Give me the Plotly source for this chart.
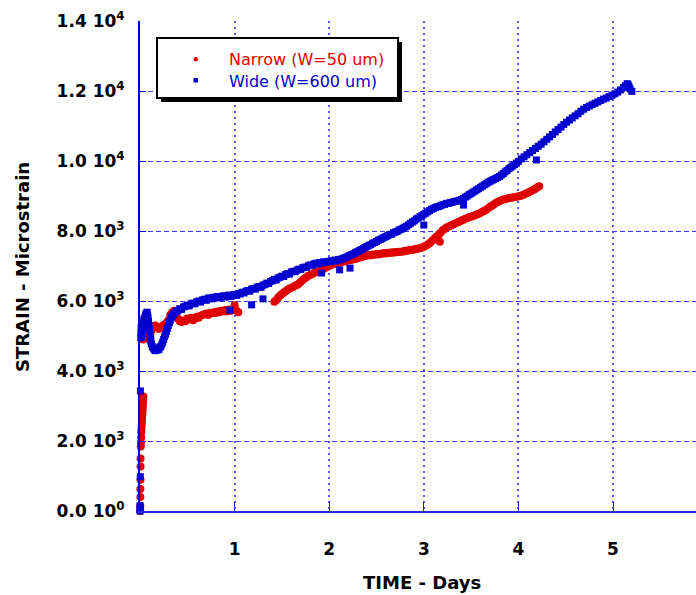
import plotly.graph_objects as go

# ---------------- data ----------------
series_names = ["Narrow (W=50 um)", "Wide (W=600 um)"]

narrow_pts = [
    (0.003, 0), (0.003, 150), (0.004, 400), (0.004, 630), (0.005, 890), (0.006, 1270),
    (0.006, 1500), (0.008, 1840), (0.010, 1950), (0.012, 2100), (0.014, 2250), (0.016, 2330),
    (0.018, 2450), (0.020, 2550), (0.022, 2650), (0.024, 2750), (0.026, 2800), (0.028, 2900),
    (0.030, 3000), (0.032, 3100), (0.034, 3170), (0.036, 3270),
    (0.02, 5000), (0.03, 4900), (0.04, 4950), (0.05, 5050), (0.06, 4950), (0.07, 5100),
    (0.08, 5200), (0.09, 5270), (0.10, 4900), (0.11, 5000), (0.12, 5150), (0.14, 5250),
    (0.16, 5300), (0.18, 5250), (0.20, 5200), (0.22, 5250), (0.24, 5300), (0.26, 5330),
    (0.28, 5380), (0.30, 5450), (0.32, 5600), (0.34, 5680), (0.36, 5720), (0.38, 5650),
    (0.40, 5500), (0.42, 5420), (0.44, 5400), (0.46, 5450), (0.48, 5420), (0.50, 5500),
    (0.52, 5480), (0.54, 5520), (0.56, 5450), (0.58, 5500), (0.60, 5550), (0.62, 5520),
    (0.64, 5580), (0.66, 5600), (0.68, 5620), (0.70, 5640), (0.72, 5600), (0.74, 5660),
    (0.76, 5650), (0.78, 5680), (0.80, 5660), (0.82, 5700), (0.84, 5680), (0.86, 5720),
    (0.88, 5700), (0.90, 5740), (0.92, 5700), (0.94, 5760), (0.96, 5720), (0.98, 5750),
    (1.00, 5800), (1.00, 5880), (1.02, 5720), (1.04, 5680),
    (1.42, 5980), (1.44, 6020), (1.46, 6100), (1.48, 6150), (1.50, 6200), (1.52, 6240),
    (1.54, 6280), (1.56, 6320), (1.58, 6360), (1.60, 6380), (1.62, 6400), (1.64, 6440),
    (1.66, 6460), (1.68, 6500), (1.70, 6550), (1.72, 6600), (1.74, 6640), (1.76, 6680),
    (1.78, 6720), (1.80, 6740), (1.82, 6770), (1.84, 6800), (1.86, 6820), (1.88, 6840),
    (1.90, 6850), (1.92, 6880), (1.94, 6920), (1.96, 6950), (1.98, 6980), (2.00, 7010),
    (2.02, 7030), (2.04, 7050), (2.06, 7060), (2.08, 7080), (2.10, 7090), (2.12, 7100),
    (2.14, 7120), (2.16, 7130), (2.18, 7150), (2.20, 7160), (2.22, 7170), (2.24, 7180),
    (2.26, 7190), (2.28, 7200), (2.30, 7220), (2.32, 7240), (2.34, 7250), (2.36, 7270),
    (2.38, 7290), (2.40, 7300), (2.42, 7310), (2.44, 7310), (2.46, 7330), (2.48, 7320),
    (2.50, 7340), (2.52, 7330), (2.54, 7350), (2.56, 7350), (2.58, 7370), (2.60, 7360),
    (2.62, 7380), (2.64, 7370), (2.66, 7390), (2.68, 7380), (2.70, 7400), (2.72, 7390),
    (2.74, 7410), (2.76, 7400), (2.78, 7420), (2.80, 7420), (2.82, 7440), (2.84, 7440),
    (2.86, 7460), (2.88, 7460), (2.90, 7480), (2.92, 7480), (2.94, 7500), (2.96, 7510),
    (2.98, 7530), (3.00, 7550), (3.02, 7580), (3.04, 7610), (3.06, 7650), (3.08, 7700),
    (3.10, 7750), (3.12, 7800), (3.14, 7850), (3.16, 7900), (3.17, 7690), (3.18, 7960),
    (3.20, 8020), (3.22, 8060), (3.24, 8100), (3.26, 8120), (3.28, 8150), (3.30, 8170),
    (3.32, 8200), (3.34, 8220), (3.36, 8250), (3.38, 8270), (3.40, 8300), (3.42, 8320),
    (3.44, 8350), (3.46, 8370), (3.48, 8400), (3.50, 8410), (3.52, 8430), (3.54, 8450),
    (3.56, 8470), (3.58, 8490), (3.60, 8520), (3.62, 8550), (3.64, 8580), (3.66, 8610),
    (3.68, 8650), (3.70, 8690), (3.72, 8720), (3.74, 8760), (3.76, 8800), (3.78, 8830),
    (3.80, 8860), (3.82, 8880), (3.84, 8900), (3.86, 8910), (3.88, 8930), (3.90, 8940),
    (3.92, 8950), (3.94, 8960), (3.96, 8970), (3.98, 8980), (4.00, 8990), (4.02, 9000),
    (4.04, 9020), (4.06, 9040), (4.08, 9070), (4.10, 9090), (4.12, 9120), (4.14, 9150),
    (4.16, 9180), (4.18, 9210), (4.20, 9250), (4.22, 9280),
]

wide_pts = [
    (0.0, 0), (0.0, 60), (0.0, 150), (0.003, 980), (0.004, 3430),
    (0.008, 4950), (0.010, 5100), (0.012, 5250), (0.015, 4980), (0.02, 5050), (0.025, 5200),
    (0.03, 5350), (0.035, 5300), (0.04, 5450), (0.045, 5500), (0.05, 5420), (0.055, 5550),
    (0.06, 5600), (0.065, 5650), (0.07, 5620), (0.075, 5680), (0.08, 5600), (0.085, 5520),
    (0.09, 5420), (0.095, 5300), (0.10, 5180), (0.105, 5050), (0.11, 4950), (0.115, 4850),
    (0.12, 4780), (0.13, 4700), (0.14, 4650), (0.15, 4620), (0.16, 4580), (0.17, 4620),
    (0.18, 4600), (0.19, 4640), (0.20, 4610), (0.21, 4680), (0.22, 4700), (0.23, 4760),
    (0.24, 4820), (0.25, 4900), (0.26, 4980), (0.27, 5050), (0.28, 5130), (0.29, 5220),
    (0.30, 5300), (0.31, 5380), (0.32, 5450), (0.33, 5520), (0.34, 5560), (0.35, 5600),
    (0.36, 5640), (0.37, 5660), (0.38, 5700), (0.40, 5720), (0.42, 5780), (0.44, 5760),
    (0.46, 5830), (0.48, 5850), (0.50, 5880), (0.52, 5860), (0.54, 5920), (0.56, 5940),
    (0.58, 5920), (0.60, 5980), (0.62, 6000), (0.64, 5970), (0.66, 6030), (0.68, 6050),
    (0.70, 6020), (0.72, 6080), (0.74, 6090), (0.76, 6060), (0.78, 6110), (0.80, 6100),
    (0.82, 6130), (0.84, 6090), (0.86, 6120), (0.88, 6150), (0.90, 6110), (0.92, 6140),
    (0.94, 6170), (0.96, 6130), (0.98, 6160), (1.00, 6190), (1.02, 6160), (1.04, 6210),
    (1.06, 6200), (1.08, 6250), (1.10, 6230), (1.12, 6280), (1.14, 6300), (1.16, 6280),
    (1.18, 6340), (1.20, 6360), (1.22, 6340), (1.24, 6400), (1.26, 6410), (1.28, 6390),
    (1.30, 6450), (1.32, 6470), (1.34, 6510), (1.36, 6500), (1.38, 6560), (1.40, 6580),
    (1.42, 6620), (1.44, 6600), (1.46, 6660), (1.48, 6680), (1.50, 6710), (1.52, 6700),
    (1.54, 6760), (1.56, 6780), (1.58, 6770), (1.60, 6830), (1.62, 6850), (1.64, 6840),
    (1.66, 6880), (1.68, 6910), (1.70, 6900), (1.72, 6950), (1.74, 6970), (1.76, 6960),
    (1.78, 7010), (1.80, 7030), (1.82, 7020), (1.84, 7060), (1.86, 7080), (1.88, 7060),
    (1.90, 7100), (1.92, 7090), (1.94, 7120), (1.96, 7100), (1.98, 7130), (2.00, 7120),
    (2.02, 7150), (2.04, 7140), (2.06, 7170), (2.08, 7150), (2.10, 7190), (2.12, 7180),
    (2.14, 7210), (2.16, 7230), (2.18, 7250), (2.20, 7280), (2.22, 7300), (2.24, 7330),
    (2.26, 7350), (2.28, 7390), (2.30, 7410), (2.32, 7440), (2.34, 7470), (2.36, 7500),
    (2.38, 7530), (2.40, 7560), (2.42, 7590), (2.44, 7610), (2.46, 7650), (2.48, 7670),
    (2.50, 7700), (2.52, 7740), (2.54, 7760), (2.56, 7790), (2.58, 7820), (2.60, 7840),
    (2.62, 7870), (2.64, 7900), (2.66, 7910), (2.68, 7950), (2.70, 7970), (2.72, 7990),
    (2.74, 8030), (2.76, 8050), (2.78, 8080), (2.80, 8110), (2.82, 8140), (2.84, 8180),
    (2.86, 8220), (2.88, 8260), (2.90, 8290), (2.92, 8340), (2.94, 8370), (2.96, 8410),
    (2.98, 8440), (3.00, 8480), (3.02, 8510), (3.04, 8550), (3.06, 8580), (3.08, 8620),
    (3.10, 8640), (3.12, 8670), (3.14, 8690), (3.16, 8700), (3.18, 8730), (3.20, 8750),
    (3.22, 8760), (3.24, 8790), (3.26, 8790), (3.28, 8810), (3.30, 8820), (3.32, 8840),
    (3.34, 8850), (3.36, 8860), (3.38, 8880), (3.40, 8900), (3.42, 8930), (3.44, 8970),
    (3.46, 9000), (3.48, 9040), (3.50, 9070), (3.52, 9110), (3.54, 9140), (3.56, 9180),
    (3.58, 9210), (3.60, 9250), (3.62, 9280), (3.64, 9320), (3.66, 9350), (3.68, 9390),
    (3.70, 9420), (3.72, 9450), (3.74, 9470), (3.76, 9500), (3.78, 9530), (3.80, 9560),
    (3.82, 9600), (3.84, 9640), (3.86, 9690), (3.88, 9730), (3.90, 9780), (3.92, 9820),
    (3.94, 9860), (3.96, 9900), (3.98, 9940), (4.00, 9990), (4.03, 10060), (4.06, 10120),
    (4.09, 10180), (4.12, 10240), (4.15, 10300), (4.18, 10360), (4.21, 10420), (4.24, 10480),
    (4.27, 10550), (4.30, 10620), (4.33, 10690), (4.36, 10760), (4.39, 10830), (4.42, 10900),
    (4.45, 10970), (4.48, 11040), (4.51, 11110), (4.54, 11170), (4.57, 11230), (4.60, 11290),
    (4.63, 11350), (4.66, 11420), (4.69, 11480), (4.72, 11530), (4.75, 11570), (4.78, 11610),
    (4.81, 11650), (4.84, 11690), (4.87, 11730), (4.90, 11770), (4.93, 11800), (4.96, 11840),
    (4.99, 11880), (5.02, 11920), (5.05, 11970), (5.08, 12030), (5.11, 12100), (5.13, 12150),
    (5.15, 12210), (5.16, 12180), (5.17, 12120), (5.18, 12060), (5.20, 11990),
    # scattered low readings
    (0.95, 5740), (1.18, 5890), (1.30, 6060), (1.92, 6800), (2.11, 6890), (2.22, 6940),
    (3.00, 8170), (3.42, 8740), (4.19, 10030),
]

narrow_days, narrow_strain = map(list, zip(*narrow_pts))
wide_days, wide_strain = map(list, zip(*wide_pts))

x_tick_vals = [1, 2, 3, 4, 5]
x_tick_text = ["1", "2", "3", "4", "5"]
y_tick_vals = [0, 2000, 4000, 6000, 8000, 10000, 12000, 14000]
y_tick_text = ["0.0 10<sup>0</sup>", "2.0 10<sup>3</sup>", "4.0 10<sup>3</sup>",
               "6.0 10<sup>3</sup>", "8.0 10<sup>3</sup>", "1.0 10<sup>4</sup>",
               "1.2 10<sup>4</sup>", "1.4 10<sup>4</sup>"]

RED = "#e00000"
BLUE = "#0000d0"
FONT = "DejaVu Sans"

# ---------------- figure ----------------
fig = go.Figure()
fig.add_trace(go.Scatter(x=narrow_days, y=narrow_strain, mode="markers", name=series_names[0],
                         marker=dict(symbol="circle", size=8, color=RED, line=dict(width=0)),
                         cliponaxis=False, showlegend=False))
fig.add_trace(go.Scatter(x=wide_days, y=wide_strain, mode="markers", name=series_names[1],
                         marker=dict(symbol="square", size=7, color=BLUE, line=dict(width=0)),
                         cliponaxis=False, showlegend=False))

PL, PR, PT, PB = 140, 696, 21, 511  # plot area in pixels


def px(xp):
    return (xp - PL) / (PR - PL)


def py(yp):
    return (PB - yp) / (PB - PT)


shapes = [
    # legend shadow
    dict(type="rect", xref="paper", yref="paper", x0=px(161), x1=px(402), y0=py(102), y1=py(42),
         fillcolor="black", line=dict(width=0), layer="above"),
    # legend box
    dict(type="rect", xref="paper", yref="paper", x0=px(157), x1=px(398), y0=py(98), y1=py(38),
         fillcolor="white", line=dict(color="black", width=2), layer="above"),
    # legend markers
    dict(type="circle", xref="paper", yref="paper", x0=px(193.5), x1=px(198), y0=py(61.5), y1=py(57),
         fillcolor=RED, line=dict(width=0), layer="above"),
    dict(type="rect", xref="paper", yref="paper", x0=px(193.5), x1=px(198), y0=py(82.5), y1=py(78),
         fillcolor=BLUE, line=dict(width=0), layer="above"),
]

annotations = [
    dict(text=series_names[0], xref="paper", yref="paper", x=px(227), y=py(60), xanchor="left",
         yanchor="middle", showarrow=False, font=dict(family=FONT, size=16, color=RED)),
    dict(text=series_names[1], xref="paper", yref="paper", x=px(227), y=py(81), xanchor="left",
         yanchor="middle", showarrow=False, font=dict(family=FONT, size=16, color=BLUE)),
    dict(text="TIME - Days", xref="paper", yref="paper", x=px(422), y=py(582), xanchor="center",
         yanchor="middle", showarrow=False,
         font=dict(family=FONT, size=18, color="black", weight="bold")),
    dict(text="STRAIN - Microstrain", xref="paper", yref="paper", x=px(22), y=py(267),
         xanchor="center", yanchor="middle", textangle=-90, showarrow=False,
         font=dict(family=FONT, size=18, color="black", weight="bold")),
]

fig.update_layout(
    width=696, height=595,
    margin=dict(l=PL, r=696 - PR, t=PT, b=595 - PB, pad=0),
    paper_bgcolor="white", plot_bgcolor="white",
    showlegend=False,
    shapes=shapes, annotations=annotations,
    font=dict(family=FONT, color="black"),
)

fig.update_xaxes(
    range=[0, (PR - PL) / 94.6], autorange=False,
    tickmode="array", tickvals=x_tick_vals, ticktext=x_tick_text,
    ticks="inside", ticklen=10, tickcolor="#2222dd", tickwidth=1,
    tickfont=dict(family=FONT, size=17, color="black", weight="bold"),
    ticklabelstandoff=22,
    showgrid=True, gridcolor="#5a5aee", griddash="2px,4px", gridwidth=1.5,
    showline=True, linecolor="#2a2ae0", linewidth=2,
    zeroline=False, mirror=False,
)
fig.update_yaxes(
    range=[0, 14000], autorange=False,
    tickmode="array", tickvals=y_tick_vals, ticktext=y_tick_text,
    ticks="inside", ticklen=6, tickcolor="#0000dd",
    tickfont=dict(family=FONT, size=17, color="black", weight="bold"),
    ticklabelstandoff=10,
    showgrid=True, gridcolor="#3a3ae6", griddash="5px,3px", gridwidth=1,
    showline=True, linecolor="#0000dd", linewidth=2,
    zeroline=False,
)

fig.write_html("out.html")
